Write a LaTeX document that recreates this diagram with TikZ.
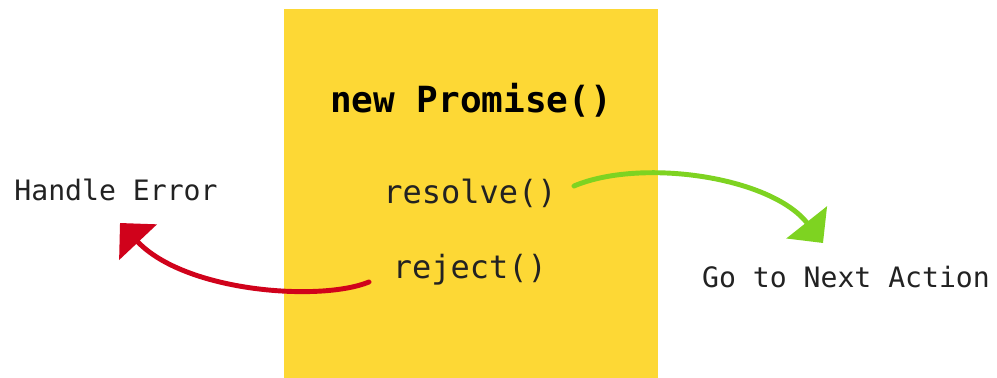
\documentclass[tikz,border=0pt]{standalone}
\usepackage{fontspec}
\setmonofont{DejaVu Sans Mono}
\usetikzlibrary{arrows.meta}

\definecolor{promiseyellow}{RGB}{253,216,53}
\definecolor{okgreen}{RGB}{126,211,33}
\definecolor{errred}{RGB}{208,2,27}
\definecolor{inkgray}{RGB}{34,34,34}

\tikzset{
    label/.style={font=\ttfamily\fontsize{16}{18}\selectfont, text=inkgray, inner sep=0pt},
    call/.style={font=\ttfamily\fontsize{18.2}{20}\selectfont, text=inkgray, inner sep=0pt},
    flow/.style={line width=2.8pt, line cap=round,
        -{Triangle[length=15pt, width=29pt]}},
}

\begin{document}
\begin{tikzpicture}[x=0.02cm, y=-0.02cm]
    \useasboundingbox (0,0) rectangle (997,378);

    \fill[promiseyellow] (284,9) rectangle (658,378);

    \node[font=\ttfamily\bfseries\fontsize{20.5}{22}\selectfont, text=black, inner sep=0pt]
        (promise) at (471,100) {new Promise()};
    \node[call] (resolve) at (470,193) {resolve()};
    \node[call] (reject) at (470,270) {reject()};

    \node[label] (error) at (116,190) {Handle Error};
    \node[label] (next) at (846,277) {Go to Next Action};

    \coordinate (okstart) at (574,186);
    \coordinate (oktip) at (823,243);
    \coordinate (errstart) at (369,282);
    \coordinate (errtip) at (120,223);

    \draw[flow, okgreen]
        (okstart) .. controls (640,158) and (770,176) .. (oktip);

    \draw[flow, errred]
        (errstart) .. controls (320,302) and (185,292) .. (errtip);
\end{tikzpicture}
\end{document}
